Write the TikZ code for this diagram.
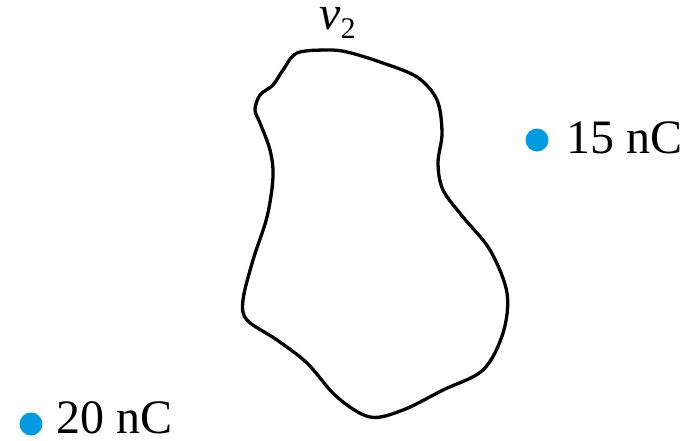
\documentclass[tikz,border=0pt]{standalone}
\usepackage{fontspec}
\setmainfont{Liberation Serif}
\definecolor{chargeblue}{RGB}{0,155,225}
\begin{document}
\begin{tikzpicture}[x=1pt,y=-1pt,
  charge/.style={circle,fill=chargeblue,inner sep=0pt,minimum size=23pt},
  lbl/.style={inner sep=0pt,anchor=base west,font=\fontsize{48}{48}\selectfont},
  blob/.style={line width=3.3pt,line join=round}]
\useasboundingbox (0,0) rectangle (692,440);
\draw[blob] plot[smooth cycle,tension=0.55] coordinates {
 (327,50) (297,53) (283,70) (273,85) (260,95) (255,110) (260,123)
 (270,150) (273,177) (267,217) (253,260) (243,300) (247,320)
 (277,340) (307,363) (337,397) (370,417) (403,410) (443,390)
 (483,370) (503,333) (507,293) (490,250) (463,217) (443,190)
 (438,163) (442,133) (437,100) (417,77) (380,62) (347,52)};
\node[lbl] (vlabel) at (319,29) {\itshape v\raisebox{-9pt}{\upshape\fontsize{30}{30}\selectfont 2}};
\node[charge] (q1) at (537,140) {};
\node[lbl] (q1lbl) at (566,153) {15 nC};
\node[charge] (q2) at (31,424) {};
\node[lbl] (q2lbl) at (56,433) {20 nC};
\end{tikzpicture}
\end{document}
